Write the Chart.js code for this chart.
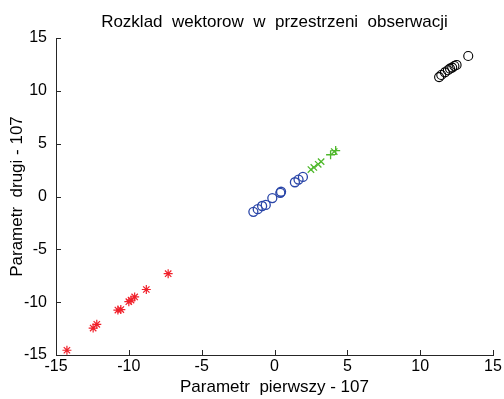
<!DOCTYPE html>
<html>
<head>
<meta charset="utf-8">
<script src="https://cdn.jsdelivr.net/npm/chart.js@4/dist/chart.umd.min.js"></script>
<style>
  html, body { margin: 0; padding: 0; background: #fff; }
  #wrap { width: 504px; height: 399px; }
</style>
</head>
<body>
<div id="wrap"><canvas id="plot" width="504" height="399"></canvas></div>
<script>
// Scatter of the observation vectors, one series per group

const TICKS = [-15, -10, -5, 0, 5, 10, 15];

const redX = [-14.25, -12.45, -12.2, -10.75, -10.55, -10.0, -9.85, -9.6, -8.8, -7.3];
const redY = [-14.55, -12.45, -12.1, -10.75, -10.7, -9.95, -9.8, -9.5, -8.8, -7.3];

const blueX = [-1.45, -1.15, -0.85, -0.6, -0.15, 0.4, 0.45, 1.4, 1.65, 1.95];
const blueY = [-1.45, -1.2, -0.9, -0.8, -0.15, 0.35, 0.45, 1.35, 1.6, 1.85];

const greenX = [2.5, 2.7, 3.0, 3.2, 3.85, 4.1, 4.2];
const greenY = [2.55, 2.75, 3.05, 3.3, 3.95, 4.25, 4.35];
const greenMarks = ['crossRot', 'crossRot', 'crossRot', 'crossRot', 'cross', 'crossRot', 'cross'];

const blackX = [11.3, 11.45, 11.7, 11.9, 12.05, 12.2, 12.35, 12.5, 13.3];
const blackY = [11.3, 11.5, 11.75, 11.95, 12.1, 12.2, 12.35, 12.45, 13.3];

const FONT = "'Liberation Sans', Arial, sans-serif";
const AXIS_COLOR = '#262626';

function pts(xs, ys) {
  return xs.map((x, i) => ({ x, y: ys[i] }));
}

// MATLAB style: ticks point into the plot area
const innerTicks = {
  id: 'innerTicks',
  afterDraw(chart) {
    const { ctx, chartArea: a, scales } = chart;
    ctx.save();
    ctx.strokeStyle = AXIS_COLOR;
    ctx.lineWidth = 1;
    ctx.beginPath();
    TICKS.forEach(v => {
      const px = Math.round(scales.x.getPixelForValue(v)) + 0.5;
      ctx.moveTo(px, a.bottom);
      ctx.lineTo(px, a.bottom - 5);
      const py = Math.round(scales.y.getPixelForValue(v)) + 0.5;
      ctx.moveTo(a.left, py);
      ctx.lineTo(a.left + 5, py);
    });
    ctx.stroke();
    ctx.restore();
  }
};

// title centred over the axes
const axesTitle = {
  id: 'axesTitle',
  afterDraw(chart) {
    const { ctx, chartArea: a } = chart;
    ctx.save();
    ctx.fillStyle = '#000';
    ctx.font = '17px ' + FONT;
    ctx.textAlign = 'center';
    ctx.textBaseline = 'middle';
    ctx.fillText('Rozklad  wektorow  w  przestrzeni  obserwacji', (a.left + a.right) / 2, 22);
    ctx.restore();
  }
};

const axisCommon = {
  type: 'linear',
  min: -15,
  max: 15,
  grid: { display: true, drawOnChartArea: false, drawTicks: false },
  border: { display: true, color: AXIS_COLOR, width: 1 },
  afterBuildTicks: s => { s.ticks = TICKS.map(v => ({ value: v })); }
};

new Chart(document.getElementById('plot'), {
  type: 'scatter',
  data: {
    datasets: [
      {
        label: 'red',
        data: pts(redX, redY),
        pointStyle: 'star',
        radius: 4.5,
        borderColor: '#f0202a',
        backgroundColor: '#f0202a',
        borderWidth: 1.2
      },
      {
        label: 'blue',
        data: pts(blueX, blueY),
        pointStyle: 'circle',
        radius: 4.5,
        borderColor: '#2a46a8',
        backgroundColor: 'rgba(0,0,0,0)',
        borderWidth: 1.3
      },
      {
        label: 'green',
        data: pts(greenX, greenY),
        pointStyle: greenMarks,
        radius: 4.5,
        borderColor: '#4fb82c',
        backgroundColor: '#4fb82c',
        borderWidth: 1.3
      },
      {
        label: 'black',
        data: pts(blackX, blackY),
        pointStyle: 'circle',
        radius: 4.5,
        borderColor: '#000',
        backgroundColor: 'rgba(0,0,0,0)',
        borderWidth: 1.1
      }
    ]
  },
  options: {
    responsive: false,
    animation: false,
    layout: { padding: { top: 38, right: 11, left: 0, bottom: 0 } },
    plugins: {
      legend: { display: false },
      tooltip: { enabled: false }
    },
    scales: {
      x: {
        ...axisCommon,
        position: 'bottom',
        afterFit: s => { s.height = 44; },
        ticks: {
          color: '#000',
          font: { family: FONT, size: 16 },
          padding: 2,
          maxRotation: 0,
          autoSkip: false
        },
        title: {
          display: true,
          text: 'Parametr  pierwszy - 107',
          color: '#000',
          font: { family: FONT, size: 17 },
          padding: { top: 0, bottom: 1 }
        }
      },
      y: {
        ...axisCommon,
        position: 'left',
        afterFit: s => { s.width = 56; },
        ticks: {
          color: '#000',
          font: { family: FONT, size: 16 },
          padding: 9,
          autoSkip: false
        },
        title: {
          display: true,
          text: 'Parametr  drugi - 107',
          color: '#000',
          font: { family: FONT, size: 17 },
          padding: { top: 7, bottom: 0 }
        }
      }
    }
  },
  plugins: [innerTicks, axesTitle]
});
</script>
</body>
</html>
